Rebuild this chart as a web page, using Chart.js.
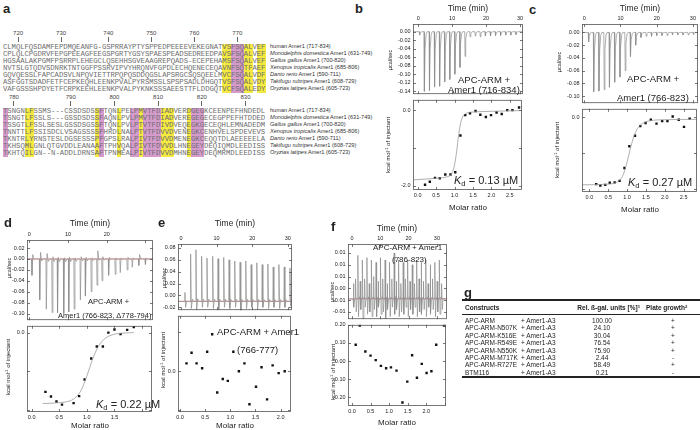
<!DOCTYPE html>
<html>
<head>
<meta charset="utf-8">
<script src="https://cdn.jsdelivr.net/npm/chart.js"></script>
<style>
  html, body { margin: 0; padding: 0; background: #fff; }
  body { position: relative; width: 700px; height: 430px; overflow: hidden; font-family: "Liberation Sans", Arial, sans-serif; color: #222; }
  .t { position: absolute; white-space: nowrap; line-height: 1; }
  .seq { font-family: "Liberation Mono", monospace; font-size: 7.25px; color: #6e6e6e; line-height: 7px; }
  sub { font-size: 0.7em; vertical-align: -0.3em; line-height: 0; }
  sup { font-size: 0.65em; vertical-align: 0.45em; line-height: 0; }
</style>
</head>
<body>
<script>
// ---------- panel a: alignment ----------
const speciesNames = ['human', 'Monodelphis domestica', 'Gallus gallus', 'Xenopus tropicalis', 'Danio rerio', 'Takifugu rubripes', 'Oryzias latipes'];
const speciesRanges = ['717-834', '631-749', '700-820', '685-806', '590-711', '608-729', '605-723'];
const seqBlock1 = [
  'CLMQLFQSDAMFEPDMQEANFG-GSPRRAYPTYSPPEDPEEEEVEKEGNATVSFSQALVEF',
  'CPLQLCPGDRVFEPGPEEAGFEEGSPGRTYGSYSPAESPEADSEDREEDPAVSFSQALVEF',
  'HGSAALAKPGMFPSRRPLEHEGCLQSEHHSGVEAAGREPQADS-ECEPEHAMSFSQALVEF',
  'NVTSLGTQDVSDNRKTNTGGFPSSRVIPVYHRQNVFGPDLECHQENECEQAVNFSQTFAEF',
  'GQVQESSLFAPCADSVLNPQVIETTRPQPQSDDQGSLAPSRGCSQSQEELMVCFSQALVDF',
  'ASFGGTSDADFETFCEPKEQHLEENKPVALPYRSMSSLSPSPSADLDHGQTVSFSQALVDY',
  'VAFGSSSHPDYETFCRPKEEHLEENKPVALPYKNKSSSAEESTTFLDDGQTVCFSQALEDY'
];
const seqBlock2 = [
  'TSNGNLFSSMS---CSSDSDSSFTQNLPELPMVTFDIADVERDGEGKCEENPEFHNDEDL',
  'TSNGTLFSSLS---GSSDSDSSFAQNLPVLPMVTFDIADVEREGEGECEGPPEFHTDDED',
  'TSSGTLFSSLSESLGSSDSGSSFTQNLPVLPTVTFDIVDVEQEGKGECEQHLEMNADEDM',
  'TNNTTLFSSISDCLVSAGSSSSFHRDLNALPTVTFDVVDVENEGKCENHVELSPDEVEVS',
  'TKNTRLYRNSTESLDGSESSSPFGPSLRALPIVTFDVVDMENEGKCEQQTDLAEEEEELA',
  'TKHSQMLGNLQTGVDDLEANAAFTPHVQALPIVTFDVVDLHNEGEYDEQIQMDLEEDISS',
  'TKHTQILGN--N-ADDLDRNSAFTPNMEALPIVTFDVVDMHNEGEYDEQMRMDLEEDISS'
];
const ruler1Labels = [720, 730, 740, 750, 760, 770];
const ruler1Cols = [3, 13, 24, 34, 44, 54];
const ruler2Labels = [780, 790, 800, 810, 820, 830];
const ruler2Cols = [2, 15, 25, 35, 45, 55];
const block1Yellow = [51, 52, 56, 57, 59, 60];
const block1Pink = [53, 54, 55];
const block2Yellow = [5, 6, 21, 26, 31, 36, 37, 38, 42];
const block2Pink = [0, 22, 29, 30, 32, 33, 34, 35, 43, 44, 45];

// ---------- ITC raw traces (injection time, peak value, rebound value) ----------
const bTimes = [0.3, 1.7, 3.2, 4.7, 6.2, 7.7, 9.2, 10.7, 12.2, 13.7, 15.2, 16.7, 18.2, 19.7, 21.2, 22.7, 24.2, 25.7, 27.2, 28.7];
const bPeaks = [-0.008, -0.14, -0.138, -0.13, -0.128, -0.118, -0.112, -0.1, -0.084, -0.058, -0.012, -0.01, -0.012, -0.01, -0.01, -0.009, -0.009, -0.008, -0.008, -0.007];

const cTimes = [1.1, 2.5, 3.95, 5.4, 6.85, 8.3, 9.75, 11.2, 12.65, 14.1, 15.55, 17.0, 18.45, 19.9, 21.35, 22.8, 24.25, 25.7, 27.15, 28.6, 30.05];
const cPeaks = [-0.015, -0.093, -0.092, -0.09, -0.086, -0.078, -0.07, -0.06, -0.038, -0.02, -0.008, -0.006, -0.006, -0.005, -0.005, -0.005, -0.004, -0.004, -0.004, -0.004, -0.003];

const dTimes = [0.6, 2.6, 4.3, 5.8, 7.2, 8.8, 10.1, 11.5, 13.1, 14.4, 15.9, 17.4, 18.7, 20.4, 22.1, 23.4, 25.2, 26.5, 28.2, 29.9];
const dPeaks = [-0.03, -0.075, -0.092, -0.098, -0.099, -0.1, -0.097, -0.092, -0.075, -0.068, -0.06, -0.048, -0.04, -0.03, -0.028, -0.025, -0.02, -0.015, -0.012, -0.01];
const dRebound = [0.008, 0.012, 0.01, 0.004, 0.003, 0.002, 0.003, 0.002, 0.004, 0.003, 0.002, 0.015, 0.004, 0.003, 0.002, 0.002, 0.003, 0.002, 0.008, 0.002];

const eBase = -0.01;
const eTimes = [1.0, 2.6, 4.1, 5.7, 7.2, 8.8, 10.3, 11.9, 13.4, 15.0, 16.5, 18.1, 19.6, 21.2, 22.7, 24.3, 25.8, 27.4, 28.9, 30.5];
const ePeaks = [0.005, 0.07, 0.077, 0.066, 0.063, 0.066, 0.062, 0.064, 0.06, 0.058, 0.056, 0.058, 0.052, 0.055, 0.052, 0.053, 0.048, 0.052, 0.048, 0.046];
const eDips = [-0.02, -0.022, -0.025, -0.02, -0.02, -0.022, -0.024, -0.02, -0.022, -0.02, -0.038, -0.022, -0.02, -0.025, -0.02, -0.022, -0.02, -0.022, -0.02, -0.018];

const fBase = -0.0045;
const fTimes = [0.4, 1.2, 2.0, 2.8, 3.6, 4.4, 5.2, 6.0, 6.8, 7.6, 8.4, 9.2, 10.0, 10.8, 11.6, 12.4, 13.2, 14.0, 14.8, 15.6, 16.4, 17.2, 18.0, 18.8, 19.6, 20.4, 21.2, 22.0, 22.8, 23.6, 24.4, 25.2, 26.0, 26.8, 27.6, 28.4, 29.2, 30.0, 30.8, 31.6];
const fPeaks = [0.002, 0.004, 0.014, 0.003, 0.012, 0.004, 0.013, 0.002, 0.012, 0.005, 0.011, 0.003, 0.013, 0.004, 0.012, 0.002, 0.011, 0.004, 0.015, 0.003, 0.012, 0.002, 0.011, 0.004, 0.012, 0.003, 0.010, 0.002, 0.012, 0.004, 0.011, 0.003, 0.012, 0.002, 0.010, 0.004, 0.011, 0.003, 0.012, 0.002];
const fDips = [-0.008, -0.01, -0.012, -0.009, -0.013, -0.008, -0.011, -0.01, -0.012, -0.009, -0.012, -0.008, -0.011, -0.01, -0.013, -0.009, -0.012, -0.008, -0.011, -0.009, -0.012, -0.01, -0.011, -0.008, -0.012, -0.009, -0.011, -0.008, -0.012, -0.01, -0.011, -0.009, -0.012, -0.008, -0.011, -0.009, -0.012, -0.01, -0.011, -0.009];

// ---------- integrated heats (molar ratio, kcal/mol) and fits ----------
const bX = [0.20, 0.33, 0.47, 0.60, 0.75, 0.89, 1.02, 1.16, 1.29, 1.42, 1.57, 1.70, 1.85, 1.99, 2.14, 2.28, 2.43, 2.57, 2.75];
const bY = [-1.97, -1.89, -1.79, -1.80, -1.70, -1.70, -1.64, -0.67, -0.13, -0.08, -0.02, -0.12, -0.18, -0.13, -0.06, -0.10, 0.0, 0.0, 0.07];
const bFitX = [-0.1, 0.5, 0.8, 0.9, 0.95, 1.0, 1.05, 1.1, 1.15, 1.2, 1.3, 1.5, 2.0, 2.85];
const bFitY = [-1.84, -1.8, -1.76, -1.71, -1.62, -1.45, -1.15, -0.75, -0.42, -0.22, -0.09, -0.05, -0.03, -0.01];

const cX = [0.18, 0.29, 0.42, 0.54, 0.67, 0.80, 0.93, 1.06, 1.21, 1.35, 1.49, 1.63, 1.78, 1.93, 2.07, 2.21, 2.37, 2.51, 2.66];
const cY = [-1.87, -1.91, -1.89, -1.83, -1.82, -1.78, -1.42, -0.81, -0.52, -0.25, -0.16, -0.07, -0.18, -0.11, -0.11, 0.02, -0.07, -0.27, -0.04];
const cFitX = [-0.2, 0.5, 0.7, 0.8, 0.9, 1.0, 1.1, 1.2, 1.3, 1.45, 1.6, 2.0, 2.86];
const cFitY = [-1.89, -1.87, -1.83, -1.76, -1.6, -1.25, -0.82, -0.48, -0.28, -0.15, -0.1, -0.07, -0.06];

const dX = [0.25, 0.35, 0.45, 0.55, 0.76, 0.86, 0.96, 1.08, 1.18, 1.29, 1.39, 1.50, 1.61, 1.73, 1.85];
const dY = [-1.53, -1.65, -1.78, -1.86, -1.82, -1.64, -1.21, -0.67, -0.36, -0.36, 0.0, 0.08, -0.04, 0.07, 0.14];
const dFitX = [0.2, 0.5, 0.7, 0.8, 0.9, 1.0, 1.1, 1.2, 1.3, 1.4, 1.55, 1.85];
const dFitY = [-1.83, -1.81, -1.76, -1.67, -1.48, -1.12, -0.7, -0.38, -0.19, -0.09, -0.03, 0.0];

const eX = [0.13, 0.23, 0.33, 0.44, 0.54, 0.64, 0.74, 0.85, 0.95, 1.06, 1.17, 1.28, 1.38, 1.51, 1.62, 1.73, 1.84, 1.96, 2.08];
const eY = [0.04, 0.095, 0.04, 0.015, 0.10, 0.19, -0.11, -0.04, -0.05, 0.10, 0.0, 0.04, -0.17, -0.08, 0.02, -0.145, 0.03, -0.01, 0.0];

const fX = [0.10, 0.21, 0.36, 0.50, 0.64, 0.78, 0.92, 1.05, 1.20, 1.36, 1.49, 1.62, 1.75, 1.88, 2.01, 2.14, 2.27, 2.48];
const fY = [0.09, 0.197, 0.053, 0.03, 0.005, -0.027, -0.04, -0.035, -0.053, -0.23, -0.114, 0.032, -0.093, -0.016, -0.066, -0.057, 0.09, 0.197];

// ---------- panel g: table ----------
const constructs = ['APC-ARM', 'APC-ARM-N507K', 'APC-ARM-K516E', 'APC-ARM-R549E', 'APC-ARM-N550K', 'APC-ARM-M717K', 'APC-ARM-R727E', 'BTM116'];
const galUnits = ['100.00', '24.10', '30.04', '76.54', '75.90', '2.44', '58.49', '0.21'];
const plateGrowth = ['+', '+', '+', '+', '+', '-', '+', '-'];

// ---------- helpers ----------
function put(x, y, html, size, opts = {}) {
  const d = document.createElement('div');
  d.className = 't';
  d.innerHTML = html;
  const tx = opts.align === 'c' ? '-50%' : opts.align === 'r' ? '-100%' : '0';
  const tf = opts.rot ? 'translate(-50%,-50%) rotate(-90deg)' : `translate(${tx},-50%)`;
  d.style.cssText += `left:${x}px;top:${y}px;font-size:${size}px;transform:${tf};` + (opts.css || '');
  document.body.appendChild(d);
  return d;
}
function box(x, y, w, h, color) {
  const d = document.createElement('div');
  d.style.cssText = `position:absolute;left:${x}px;top:${y}px;width:${w}px;height:${h}px;background:${color};`;
  document.body.appendChild(d);
}

// alignment block
const SEQ_X = 3, ROW_H = 7;
function alignBlock(rows, rowTop, cw, rulerLabels, rulerCols, yellow, pink) {
  const hH = rows.length * ROW_H;
  yellow.forEach(c => box(SEQ_X + c * cw, rowTop, cw + 0.4, hH, '#f5ea3f'));
  pink.forEach(c => box(SEQ_X + c * cw, rowTop, cw + 0.4, hH, '#d69bcd'));
  rows.forEach((r, i) => {
    const d = document.createElement('div');
    d.className = 't seq';
    d.textContent = r;
    d.style.left = SEQ_X + 'px';
    d.style.top = (rowTop + i * ROW_H) + 'px';
    d.style.letterSpacing = (cw - 4.35) + 'px';
    document.body.appendChild(d);
    const sp = i === 0 ? speciesNames[i] + ' Amer1 (' + speciesRanges[i] + ')'
                       : '<i>' + speciesNames[i] + '</i> Amer1 (' + speciesRanges[i] + ')';
    put(270, rowTop + i * ROW_H + 3.5, sp, 5.6, {css: 'color:#333;'});
  });
  rulerLabels.forEach((lab, i) => {
    const cx = SEQ_X + (rulerCols[i] + 0.5) * cw;
    put(cx, rowTop - 10.5, String(lab), 6, {align: 'c', css: 'color:#444;'});
    box(cx - 0.5, rowTop - 7, 0.8, 5, '#666');
  });
}
alignBlock(seqBlock1, 43.5, 4.3, ruler1Labels, ruler1Cols, block1Yellow, block1Pink);
alignBlock(seqBlock2, 107.5, 4.37, ruler2Labels, ruler2Cols, block2Yellow, block2Pink);

// raw trace built from the injection list
function trace(times, peaks, rebounds, base, tMin, tMax) {
  const pts = [{x: tMin, y: base}];
  times.forEach((t, i) => {
    const p = peaks[i];
    pts.push({x: t, y: base});
    pts.push({x: t + 0.1, y: p});
    pts.push({x: t + 0.3, y: rebounds ? rebounds[i] : base + (p - base) * 0.3});
    pts.push({x: t + 0.6, y: base + (p - base) * 0.05});
    pts.push({x: t + 0.9, y: base});
  });
  pts.push({x: tMax, y: base});
  return pts;
}
const zip = (xs, ys) => xs.map((x, i) => ({x, y: ys[i]}));
const rawDs = pts => ({data: pts, showLine: true, pointRadius: 0, borderColor: '#8c8c8c', borderWidth: 0.7, tension: 0});
const redDs = (a, b, y) => ({data: [{x: a, y}, {x: b, y}], showLine: true, pointRadius: 0, borderColor: '#e06a6a', borderWidth: 0.7});
const dotDs = (xs, ys) => ({data: zip(xs, ys), showLine: false, pointStyle: 'rect', pointRadius: 1.7, backgroundColor: '#111', borderColor: '#111', borderWidth: 0});
const fitDs = (xs, ys) => ({data: zip(xs, ys), showLine: true, pointRadius: 0, borderColor: '#9a9a9a', borderWidth: 0.8, cubicInterpolationMode: 'monotone'});

const framePlugin = {
  id: 'frame',
  afterDraw(chart) {
    const {ctx, chartArea: a, scales} = chart;
    ctx.save();
    ctx.strokeStyle = '#555';
    ctx.lineWidth = 0.8;
    ctx.strokeRect(a.left + 0.5, a.top + 0.5, a.right - a.left - 1, a.bottom - a.top - 1);
    ctx.beginPath();
    scales.x.ticks.forEach(t => {
      const p = Math.round(scales.x.getPixelForValue(t.value)) + 0.5;
      ctx.moveTo(p, a.top); ctx.lineTo(p, a.top + 3);
      ctx.moveTo(p, a.bottom); ctx.lineTo(p, a.bottom - 3);
    });
    scales.y.ticks.forEach(t => {
      const p = Math.round(scales.y.getPixelForValue(t.value)) + 0.5;
      ctx.moveTo(a.left, p); ctx.lineTo(a.left + 3, p);
      ctx.moveTo(a.right, p); ctx.lineTo(a.right - 3, p);
    });
    ctx.stroke();
    ctx.restore();
  }
};

const AY = 26, AX = 12, PAD = 3;
function axis(a, kind) {
  return {
    type: 'linear', position: a.pos, min: a.min, max: a.max,
    grid: {display: false, drawTicks: false, tickLength: 0}, border: {display: false},
    ticks: {
      stepSize: a.step, autoSkip: false, maxRotation: 0, padding: 2.5, includeBounds: false,
      font: {size: 5.5, family: 'Liberation Sans'}, color: '#222',
      callback: v => a.labels.some(l => Math.abs(l - v) < 1e-9) ? (Math.abs(v) < 1e-12 ? 0 : v).toFixed(a.dec) : ''
    },
    afterFit: s => { if (kind === 'x') s.height = AX; else s.width = AY; }
  };
}
function itcChart(rect, xa, ya, datasets) {
  const onTop = xa.pos === 'top';
  const cv = document.createElement('canvas');
  cv.width = AY + rect.w + PAD;
  cv.height = AX + rect.h + PAD;
  cv.style.cssText = `position:absolute;left:${rect.x - AY}px;top:${rect.y - (onTop ? AX : PAD)}px;`;
  document.body.appendChild(cv);
  new Chart(cv, {
    type: 'scatter',
    data: {datasets},
    options: {
      responsive: false, animation: false, devicePixelRatio: 1,
      layout: {padding: {left: 0, right: PAD, top: onTop ? 0 : PAD, bottom: onTop ? PAD : 0}},
      plugins: {legend: {display: false}, tooltip: {enabled: false}},
      scales: {x: axis(xa, 'x'), y: axis(ya, 'y')}
    },
    plugins: [framePlugin]
  });
}

const T = (min, max, labels) => ({pos: 'top', min, max, step: 10, labels, dec: 0});
const MR = (min, max, labels) => ({pos: 'bottom', min, max, step: 0.5, labels, dec: 1});
const Y = (min, max, step, labels, dec) => ({pos: 'left', min, max, step, labels, dec});

// panel b
itcChart({x: 413, y: 24, w: 110, h: 73}, T(-1.56, 30.9, [0, 10, 20, 30]),
  Y(-0.1467, 0.018, 0.02, [0, -0.02, -0.04, -0.06, -0.08, -0.1, -0.12, -0.14], 2),
  [rawDs(trace(bTimes, bPeaks, null, 0, -1.56, 30.9))]);
itcChart({x: 413, y: 97, w: 110, h: 93}, MR(-0.126, 2.83, [0, 0.5, 1, 1.5, 2, 2.5]),
  Y(-2.11, 0.274, 1, [0, -2], 1), [fitDs(bFitX, bFitY), dotDs(bX, bY)]);
// panel c
itcChart({x: 582, y: 24, w: 116, h: 82}, T(-0.63, 31.4, [0, 10, 20, 30]),
  Y(-0.111, 0.0132, 0.02, [0, -0.02, -0.04, -0.06, -0.08, -0.1], 2),
  [rawDs(trace(cTimes, cPeaks, null, 0, -0.63, 31.4))]);
itcChart({x: 582, y: 106, w: 116, h: 86}, MR(-0.197, 2.855, [0, 0.5, 1, 1.5, 2, 2.5]),
  Y(-2.09, 0.235, 1, [0], 1), [fitDs(cFitX, cFitY), dotDs(cX, cY)]);
// panel d
itcChart({x: 27, y: 240, w: 126, h: 83}, T(-0.59, 31.96, [0, 10, 20]),
  Y(-0.1122, 0.0347, 0.02, [0.02, 0, -0.02, -0.04, -0.06, -0.08, -0.1], 2),
  [rawDs(trace(dTimes, dPeaks, dRebound, 0, -0.59, 31.96)), redDs(-0.59, 31.96, 0)]);
itcChart({x: 27, y: 323, w: 126, h: 89}, MR(-0.084, 2.18, [0, 0.5, 1, 1.5]),
  Y(-2.05, 0.175, 1, [0], 1), [fitDs(dFitX, dFitY), dotDs(dX, dY)]);
// panel e
itcChart({x: 178, y: 244, w: 114, h: 69}, T(-0.84, 31.18, [0, 10, 20, 30]),
  Y(-0.0249, 0.0867, 0.02, [0.08, 0.06, 0.04, 0.02, 0, -0.02], 2),
  [rawDs(trace(eTimes, ePeaks, eDips, eBase, -0.84, 31.18)), redDs(-0.84, 31.18, eBase)]);
itcChart({x: 178, y: 313, w: 114, h: 99}, MR(-0.039, 2.205, [0, 0.5, 1, 1.5, 2]),
  Y(-0.21, 0.285, 0.2, [0], 1), [dotDs(eX, eY)]);
// panel f
itcChart({x: 348, y: 244, w: 99, h: 78}, T(-1.41, 33.57, [0, 10, 20, 30]),
  Y(-0.0131, 0.0188, 0.005, [0.015, 0.01, 0.005, 0, -0.005, -0.01], 2),
  [rawDs(trace(fTimes, fPeaks, fDips, fBase, -1.41, 33.57)), redDs(-1.41, 33.57, fBase)]);
itcChart({x: 348, y: 322, w: 99, h: 84}, MR(-0.107, 2.533, [0, 0.5, 1, 1.5, 2]),
  Y(-0.249, 0.2005, 0.1, [0.2, 0.1, 0, -0.1, -0.2], 2), [dotDs(fX, fY)]);

// ---------- text labels ----------
const bold = 'font-weight:bold;';
const KCAL = 'kcal mol<sup>-1</sup> of injectant';
put(3, 8, 'a', 13, {css: bold});
put(355, 8, 'b', 13, {css: bold});
put(529, 9, 'c', 13, {css: bold});
put(4, 222, 'd', 13, {css: bold});
put(158, 222, 'e', 13, {css: bold});
put(331, 226, 'f', 13, {css: bold});

put(468, 8, 'Time (min)', 8.5, {align: 'c'});
put(391, 60, 'µcal/sec', 5.5, {rot: true});
put(388, 145, KCAL, 6, {rot: true});
put(458, 80, 'APC-ARM +', 9.5);
put(448, 90, 'Amer1 (716-834)', 9.5);
put(454, 180, '<i>K</i><sub>d</sub> = 0.13 µM', 11);
put(468, 208, 'Molar ratio', 8, {align: 'c'});

put(640, 8, 'Time (min)', 8.5, {align: 'c'});
put(560, 62, 'µcal/sec', 5.5, {rot: true});
put(557, 150, KCAL, 6, {rot: true});
put(627, 79, 'APC-ARM +', 9.5);
put(617, 98, 'Amer1 (766-823)', 9.5);
put(628, 182, '<i>K</i><sub>d</sub> = 0.27 µM', 11);
put(640, 210, 'Molar ratio', 8, {align: 'c'});

put(90, 223, 'Time (min)', 8.5, {align: 'c'});
put(10, 268, 'µcal/sec', 5.5, {rot: true});
put(8, 367, KCAL, 6, {rot: true});
put(88, 302, 'APC-ARM +', 7.5);
put(58, 316, 'Amer1 (766-823, Δ778-794)', 7.5);
put(96, 404, '<i>K</i><sub>d</sub> = 0.22 µM', 11);
put(90, 426, 'Molar ratio', 8, {align: 'c'});

put(235, 223, 'Time (min)', 8.5, {align: 'c'});
put(165, 278, 'µcal/sec', 5.5, {rot: true});
put(163, 360, KCAL, 6, {rot: true});
put(217, 331.5, 'APC-ARM + Amer1', 9.5);
put(237, 349.5, '(766-777)', 9.5);
put(235, 426, 'Molar ratio', 8, {align: 'c'});

put(397, 228, 'Time (min)', 8.5, {align: 'c'});
put(333, 292, 'µcal/sec', 5.5, {rot: true});
put(333, 372, KCAL, 6, {rot: true});
put(373, 248, 'APC-ARM + Amer1', 8);
put(392, 260, '(786-823)', 8);
put(397, 423, 'Molar ratio', 8, {align: 'c'});

// ---------- panel g ----------
put(464, 292, 'g', 13, {css: bold});
box(462, 299, 238, 2, '#222');
put(465, 308, 'Constructs', 6.5, {css: bold});
put(640, 308, 'Rel. ß-gal. units [%]<sup>1</sup>', 6.5, {align: 'r', css: bold});
put(646, 308, 'Plate growth<sup>2</sup>', 6.5, {css: bold});
box(462, 314, 238, 0.8, '#222');
constructs.forEach((c, i) => {
  const y = 321 + i * 7.4;
  put(465, y, c, 6.5);
  put(521, y, '+ Amer1-A3', 6.5);
  put(602, y, galUnits[i], 6.5, {align: 'c'});
  put(673, y, plateGrowth[i], 6.5, {align: 'c'});
});
box(462, 376, 238, 2, '#222');
</script>
</body>
</html>
